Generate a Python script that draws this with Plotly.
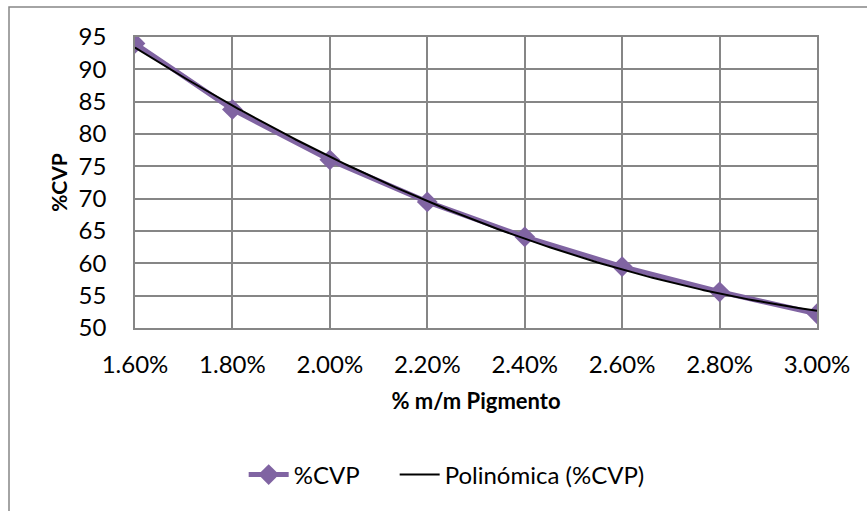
import numpy as np
import plotly.graph_objects as go

# Pigment content (% m/m) and critical pigment volume (%CVP)
pigmento = [0.016, 0.018, 0.020, 0.022, 0.024, 0.026, 0.028, 0.030]
cvp = [94.0, 83.8, 76.0, 69.5, 64.1, 59.5, 55.6, 52.2]

x_ticks = [0.016, 0.018, 0.020, 0.022, 0.024, 0.026, 0.028, 0.030]
y_ticks = [50, 55, 60, 65, 70, 75, 80, 85, 90, 95]

# Second-order polynomial trend line fitted to the measured series
coef = np.polyfit(pigmento, cvp, 2)
x_fit = np.linspace(min(pigmento), max(pigmento), 200)
y_fit = np.polyval(coef, x_fit)

purple = "#8064A2"
grid = "#868686"
font_family = "Lato, Carlito, Calibri, sans-serif"

fig = go.Figure()
fig.add_trace(go.Scatter(
    x=pigmento, y=cvp, name="%CVP&nbsp;&nbsp;&nbsp;&nbsp;&nbsp;", mode="lines+markers",
    line=dict(color=purple, width=5),
    marker=dict(symbol="diamond", size=16, color=purple),
))
fig.add_trace(go.Scatter(
    x=x_fit, y=y_fit, name="Polinómica (%CVP)", mode="lines",
    line=dict(color="black", width=2),
))

fig.update_layout(
    width=867, height=511,
    margin=dict(l=135, r=50, t=37, b=183),
    paper_bgcolor="white", plot_bgcolor="white",
    font=dict(family=font_family, size=24, color="black"),
    showlegend=True,
    legend=dict(orientation="h", x=0.457, xanchor="center", y=-0.505, yanchor="middle",
                font=dict(size=24), itemwidth=40, tracegroupgap=0),
    xaxis=dict(
        range=[0.016, 0.030], tickvals=x_ticks, tickformat=".2%",
        showgrid=True, gridcolor=grid, gridwidth=1.5,
        showline=True, linecolor=grid, linewidth=1.5, mirror=True,
        ticks="", ticklabelstandoff=14, zeroline=False,
        title=dict(text="<b>% m/m Pigmento</b>", font=dict(size=22), standoff=17),
    ),
    yaxis=dict(
        range=[50, 95], tickvals=y_ticks,
        showgrid=True, gridcolor=grid, gridwidth=1.5,
        showline=True, linecolor=grid, linewidth=1.5, mirror=True,
        ticks="", ticklabelstandoff=22, zeroline=False,
        title=dict(text="<b>%CVP</b>", font=dict(size=21), standoff=5),
    ),
    shapes=[dict(type="rect", xref="paper", yref="paper",
                 x0=-126 / 682, x1=1.2, y0=-1.0, y1=1 + 30 / 291,
                 line=dict(color=grid, width=1.5), fillcolor="rgba(0,0,0,0)",
                 layer="below")],
)

fig.write_html("out.html")
